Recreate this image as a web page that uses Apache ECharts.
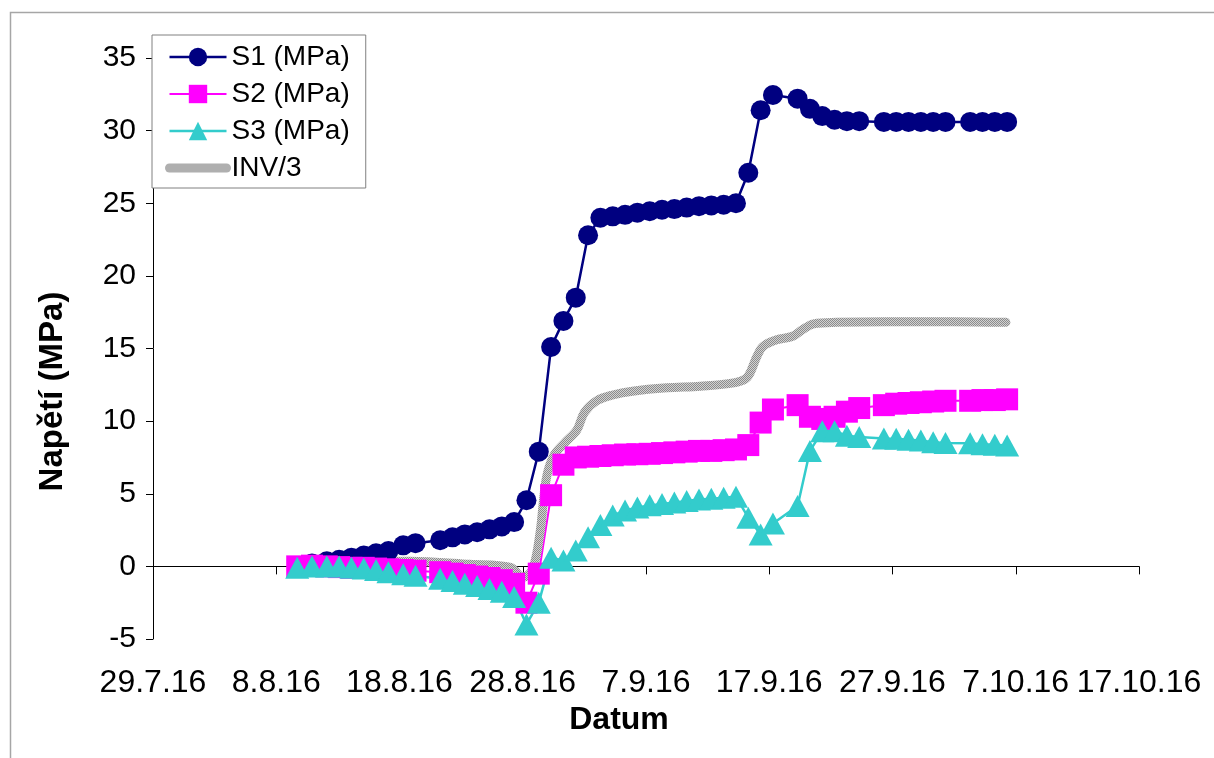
<!DOCTYPE html>
<html>
<head>
<meta charset="utf-8">
<script src="https://cdn.jsdelivr.net/npm/echarts@6/dist/echarts.min.js"></script>
<style>
html,body{margin:0;padding:0;background:#fff;}
#chart{width:1214px;height:758px;}
</style>
</head>
<body>
<div id="chart"></div>
<script>
// Day offsets counted from 29.7.2016 (measurement times)
const days = [
  11.7, 12.9, 14.1, 15.1, 16.1, 17.1, 18.1, 19.1, 20.3, 21.3,
  23.3, 24.3, 25.3, 26.3, 27.3, 28.3, 29.3, 30.3, 31.3, 32.3,
  33.3, 34.3, 35.3, 36.3, 37.3, 38.3, 39.3, 40.3, 41.3, 42.3,
  43.3, 44.3, 45.3, 46.3, 47.3, 48.3, 49.3, 50.3, 52.3, 53.3,
  54.3, 55.3, 56.3, 57.3, 59.3, 60.3, 61.3, 62.3, 63.3, 64.3,
  66.3, 67.3, 68.3, 69.3
];
const s1 = [
  0.0, 0.2, 0.35, 0.45, 0.6, 0.75, 0.9, 1.05, 1.45, 1.6,
  1.8, 2.0, 2.2, 2.35, 2.55, 2.75, 3.05, 4.55, 7.9, 15.1,
  16.9, 18.5, 22.8, 24.0, 24.1, 24.2, 24.35, 24.45, 24.55, 24.6,
  24.7, 24.8, 24.85, 24.9, 25.0, 27.1, 31.4, 32.45, 32.2, 31.5,
  31.0, 30.75, 30.65, 30.65, 30.6, 30.6, 30.6, 30.6, 30.6, 30.6,
  30.6, 30.6, 30.6, 30.6
];
const s2 = [
  0.0, 0.05, 0.0, -0.05, -0.1, -0.1, -0.15, -0.2, -0.25, -0.3,
  -0.4, -0.5, -0.6, -0.7, -0.8, -0.95, -1.2, -2.5, -0.5, 4.9,
  7.0, 7.5, 7.55, 7.6, 7.65, 7.7, 7.72, 7.75, 7.8, 7.85,
  7.9, 7.95, 7.95, 8.0, 8.05, 8.35, 9.9, 10.8, 11.1, 10.3,
  10.15, 10.3, 10.65, 10.9, 11.1, 11.2, 11.25, 11.3, 11.35, 11.4,
  11.4, 11.45, 11.45, 11.5
];
const s3 = [
  -0.1, 0.0, 0.0, 0.0, -0.1, -0.15, -0.25, -0.4, -0.55, -0.65,
  -0.85, -1.0, -1.2, -1.35, -1.55, -1.75, -2.1, -4.0, -2.5, 0.6,
  0.4, 1.1, 2.0, 2.85, 3.5, 3.85, 4.05, 4.2, 4.3, 4.4,
  4.5, 4.6, 4.65, 4.72, 4.8, 3.35, 2.2, 2.95, 4.15, 7.95,
  9.3, 9.3, 9.0, 8.9, 8.8, 8.78, 8.72, 8.67, 8.55, 8.5,
  8.48, 8.4, 8.38, 8.32
];
const invDays = [
  11.9, 16.0, 20.8, 25.7, 29.0, 30.0, 30.8, 31.4, 31.9, 32.5,
  33.4, 34.4, 35.0, 36.0, 37.3, 38.9, 41.7, 44.4, 47.1, 48.2,
  49.0, 49.5, 50.6, 51.9, 52.7, 53.6, 55.5, 59.5, 64.9, 69.2
];
const inv = [
  0.15, 0.3, 0.36, 0.14, -0.07, -0.75, -0.2, 2.3, 6.0, 7.6,
  8.5, 9.4, 10.6, 11.4, 11.8, 12.06, 12.29, 12.4, 12.63, 13.0,
  14.46, 15.15, 15.6, 15.84, 16.3, 16.7, 16.8, 16.85, 16.85, 16.8
];
const xTickLabels = ['29.7.16','8.8.16','18.8.16','28.8.16','7.9.16','17.9.16','27.9.16','7.10.16','17.10.16'];
const seriesNames = ['S1 (MPa)', 'S2 (MPa)', 'S3 (MPa)', 'INV/3'];

const FONT = 'Liberation Sans, Arial, sans-serif';
const pair = (xs, ys) => xs.map((x, i) => [x, ys[i]]);

// checkered gray pattern for INV/3 line
const pc = document.createElement('canvas');
pc.width = 2; pc.height = 2;
const pctx = pc.getContext('2d');
pctx.fillStyle = '#d2d2d2'; pctx.fillRect(0,0,2,2);
pctx.fillStyle = '#8c8c8c'; pctx.fillRect(0,0,1,1); pctx.fillRect(1,1,1,1);
const invPattern = { image: pc, repeat: 'repeat' };

const chart = echarts.init(document.getElementById('chart'), null, {renderer: 'canvas'});
chart.setOption({
  animation: false,
  backgroundColor: '#fff',
  textStyle: { fontFamily: FONT },
  graphic: [{
    type: 'rect', left: 8, top: 10, silent: true,
    shape: { width: 1205, height: 800 },
    style: { fill: 'none', stroke: '#a6a6a6', lineWidth: 1.5 }
  }],
  grid: { left: 153, right: 75, top: 58, bottom: 119 },
  legend: {
    data: [
      { name: seriesNames[0] },
      { name: seriesNames[1] },
      { name: seriesNames[2] },
      { name: seriesNames[3], itemStyle: { opacity: 0 }, lineStyle: { width: 9, cap: 'round' } }
    ],
    orient: 'vertical', left: 152, top: 35,
    padding: [8, 16, 6, 13],
    itemWidth: 57, itemHeight: 23, itemGap: 9,
    lineStyle: { width: 'inherit' },
    backgroundColor: '#fff',
    borderColor: '#808080', borderWidth: 1,
    textStyle: { fontSize: 28, color: '#000', fontFamily: FONT }
  },
  xAxis: [{
    type: 'value', min: 0, max: 80, interval: 10,
    position: 'bottom',
    axisLine: { show: false, onZero: false },
    axisTick: { show: false },
    splitLine: { show: false },
    axisLabel: {
      margin: 28, fontSize: 32, color: '#000', fontFamily: FONT,
      formatter: v => xTickLabels[Math.round(v / 10)]
    },
    name: 'Datum', nameLocation: 'middle', nameGap: 60,
    nameTextStyle: { fontSize: 32, fontWeight: 'bold', color: '#000', fontFamily: FONT, padding: [0, 54, 0, 0] }
  }, {
    type: 'value', min: 0, max: 80, interval: 10,
    position: 'bottom',
    axisLine: { show: true, onZero: true, lineStyle: { color: '#000', width: 1 } },
    axisTick: { show: true, length: 8, lineStyle: { color: '#000' } },
    axisLabel: { show: false },
    splitLine: { show: false }
  }],
  yAxis: {
    type: 'value', min: -5, max: 35, interval: 5,
    axisLine: { show: true, lineStyle: { color: '#000', width: 1 } },
    axisTick: { show: true, length: 7, lineStyle: { color: '#000' } },
    splitLine: { show: false },
    axisLabel: { margin: 17, fontSize: 30, color: '#000', fontFamily: FONT },
    name: 'Napětí (MPa)', nameLocation: 'middle', nameGap: 84, nameRotate: 90,
    nameTextStyle: { fontSize: 33, fontWeight: 'bold', color: '#000', fontFamily: FONT, padding: [0, 86, 0, 0] }
  },
  series: [{
    name: seriesNames[0], type: 'line', xAxisIndex: 0,
    data: pair(days, s1),
    symbol: 'circle', symbolSize: 20,
    lineStyle: { color: '#000080', width: 2.5 },
    itemStyle: { color: '#000080' }
  }, {
    name: seriesNames[1], type: 'line', xAxisIndex: 0,
    data: pair(days, s2),
    symbol: 'rect', symbolSize: 22,
    lineStyle: { color: '#ff00ff', width: 2 },
    itemStyle: { color: '#ff00ff' }
  }, {
    name: seriesNames[2], type: 'line', xAxisIndex: 0,
    data: pair(days, s3),
    symbol: 'triangle', symbolSize: [24, 22],
    lineStyle: { color: '#33cccc', width: 2.5 },
    itemStyle: { color: '#33cccc' }
  }, {
    name: seriesNames[3], type: 'line', xAxisIndex: 0,
    data: pair(invDays, inv),
    symbol: 'none', smooth: 0.35,
    lineStyle: { color: invPattern, width: 9, cap: 'round', join: 'round' },
    itemStyle: { color: '#b4b4b4' }
  }]
});
</script>
</body>
</html>
